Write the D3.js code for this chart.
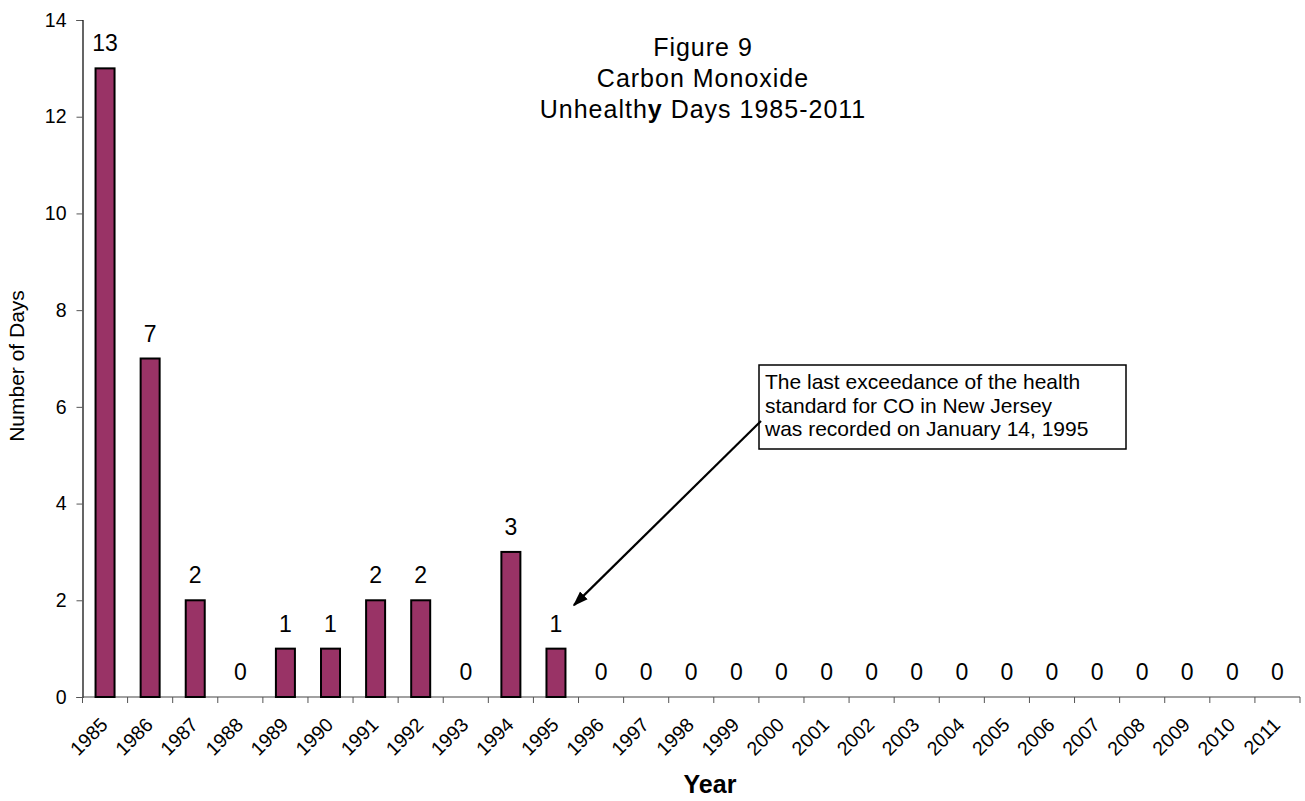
<!DOCTYPE html>
<html>
<head>
<meta charset="utf-8">
<script src="https://cdn.jsdelivr.net/npm/d3@7"></script>
<style>
  html, body { margin: 0; padding: 0; background: #fff; }
  svg { display: block; }
  text { font-family: "Liberation Sans", Arial, sans-serif; fill: #000; }
</style>
</head>
<body>
<svg id="chart" width="1305" height="801"></svg>
<script>
// Carbon monoxide unhealthy days per year
const years = ["1985","1986","1987","1988","1989","1990","1991","1992","1993","1994","1995","1996","1997","1998","1999","2000","2001","2002","2003","2004","2005","2006","2007","2008","2009","2010","2011"];
const days  = [13, 7, 2, 0, 1, 1, 2, 2, 0, 3, 1, 0, 0, 0, 0, 0, 0, 0, 0, 0, 0, 0, 0, 0, 0, 0, 0];
const yTicks = [0, 2, 4, 6, 8, 10, 12, 14];
const titleLines = ["Figure 9", "Carbon Monoxide"];
const noteLines = ["The last exceedance of the health", "standard for CO in New Jersey", "was recorded on January 14, 1995"];

const svg = d3.select("#chart");
const plotLeft = 82.5, plotRight = 1300, plotTop = 20, plotBottom = 697;

const x = d3.scaleBand().domain(years).range([plotLeft, plotRight]).paddingInner(0).paddingOuter(0);
const y = d3.scaleLinear().domain([0, 14]).range([plotBottom, plotTop]);
const barW = 19;

// Y axis
const yAxis = svg.append("g").attr("transform", `translate(${plotLeft},0)`)
  .call(d3.axisLeft(y).tickValues(yTicks).tickSize(6).tickPadding(10));
yAxis.select(".domain").attr("stroke", "#000").attr("stroke-width", 1.2);
yAxis.selectAll(".tick line").attr("stroke", "#555");
yAxis.selectAll(".tick text").attr("font-size", 19.5).attr("font-family", "Liberation Sans, Arial, sans-serif");

// X axis with ticks between categories
const xAxis = svg.append("g").attr("transform", `translate(0,${plotBottom})`);
xAxis.append("line").attr("x1", plotLeft).attr("x2", plotRight).attr("y1", 0).attr("y2", 0)
  .attr("stroke", "#444").attr("stroke-width", 1.2);
xAxis.selectAll("line.tk").data(years.concat(["end"])).join("line").attr("class", "tk")
  .attr("x1", (d, i) => i < years.length ? x(d) : plotRight)
  .attr("x2", (d, i) => i < years.length ? x(d) : plotRight)
  .attr("y1", 0).attr("y2", 6).attr("stroke", "#555");
xAxis.selectAll("text.yl").data(years).join("text").attr("class", "yl")
  .attr("transform", d => `translate(${x(d) + x.bandwidth() / 2 + 4},${29}) rotate(-45)`)
  .attr("text-anchor", "end").attr("font-size", 19.5).text(d => d);

// Bars
svg.append("g").selectAll("rect").data(days.map((v, i) => ({year: years[i], v})).filter(d => d.v > 0))
  .join("rect")
  .attr("x", d => x(d.year) + x.bandwidth() / 2 - barW / 2)
  .attr("y", d => y(d.v))
  .attr("width", barW)
  .attr("height", d => y(0) - y(d.v))
  .attr("fill", "#993366").attr("stroke", "#000").attr("stroke-width", 2);

// Value labels
svg.append("g").selectAll("text").data(days.map((v, i) => ({year: years[i], v})))
  .join("text")
  .attr("x", d => x(d.year) + x.bandwidth() / 2)
  .attr("y", d => y(d.v) - 17)
  .attr("text-anchor", "middle").attr("font-size", 23).text(d => d.v);

// Axis titles
svg.append("text").attr("transform", "translate(24,366) rotate(-90)")
  .attr("text-anchor", "middle").attr("font-size", 21).text("Number of Days");
svg.append("text").attr("x", 710).attr("y", 793).attr("text-anchor", "middle")
  .attr("font-size", 25).attr("font-weight", "bold").text("Year");

// Chart title
const title = svg.append("g");
titleLines.forEach((t, i) => {
  title.append("text").attr("x", 703).attr("y", 56 + i * 31).attr("text-anchor", "middle")
    .attr("font-size", 25).attr("font-family", "DejaVu Sans, Verdana, sans-serif")
    .attr("letter-spacing", 1).text(t);
});
const t3 = title.append("text").attr("x", 703).attr("y", 118).attr("text-anchor", "middle")
  .attr("font-size", 25).attr("font-family", "DejaVu Sans, Verdana, sans-serif").attr("letter-spacing", 1);
t3.append("tspan").text("Unhealth");
t3.append("tspan").attr("font-weight", "bold").text("y");
t3.append("tspan").text(" Days 1985-2011");

// Annotation box and arrow
const note = svg.append("g");
note.append("rect").attr("x", 759).attr("y", 365).attr("width", 367).attr("height", 84)
  .attr("fill", "#fff").attr("stroke", "#000").attr("stroke-width", 1.5);
noteLines.forEach((t, i) => {
  note.append("text").attr("x", 765).attr("y", 389 + i * 23.5).attr("font-size", 21).text(t);
});
svg.append("defs").append("marker").attr("id", "arrowhead")
  .attr("viewBox", "0 0 10 10").attr("refX", 9).attr("refY", 5)
  .attr("markerWidth", 7).attr("markerHeight", 7).attr("markerUnits", "strokeWidth")
  .attr("orient", "auto")
  .append("path").attr("d", "M0,1.5 L10,5 L0,8.5 Z").attr("fill", "#000");
const tipX = x("1995") + x.bandwidth() / 2 + 18, tipY = y(1.9);
svg.append("line").attr("x1", 761).attr("y1", 421).attr("x2", tipX).attr("y2", tipY)
  .attr("stroke", "#000").attr("stroke-width", 2.2).attr("marker-end", "url(#arrowhead)");
</script>
</body>
</html>
